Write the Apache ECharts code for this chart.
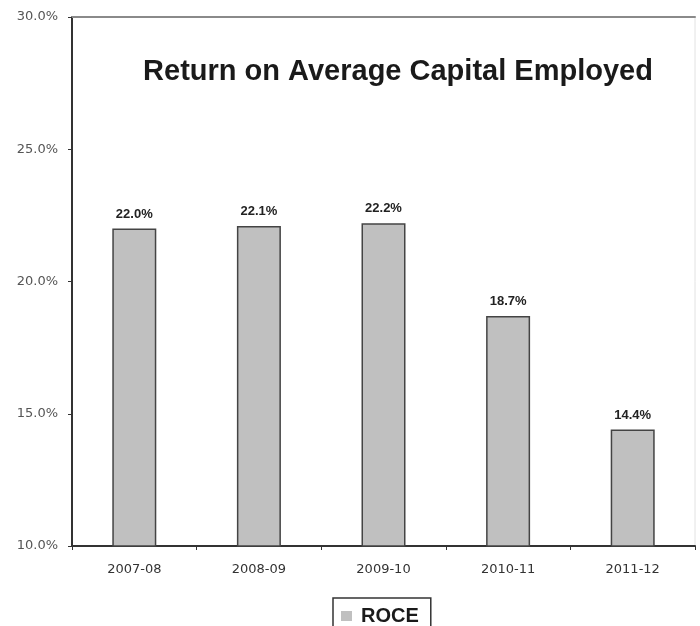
<!DOCTYPE html>
<html>
<head>
<meta charset="utf-8">
<style>
  html, body { margin: 0; padding: 0; background: #fff; }
  #chart { width: 700px; height: 626px; }
</style>
<script src="https://cdn.jsdelivr.net/npm/echarts@6/dist/echarts.min.js"></script>
</head>
<body>
<div id="chart"></div>
<script>
// Return on Average Capital Employed, by financial year
const years = ['2007-08', '2008-09', '2009-10', '2010-11', '2011-12'];
const roce = [22.0, 22.1, 22.2, 18.7, 14.4];
const seriesName = 'ROCE';

const FONT = '"Liberation Sans", Arial, sans-serif';
const AXIS_FONT = '"DejaVu Sans", Verdana, sans-serif';
const chart = echarts.init(document.getElementById('chart'), null, { renderer: 'canvas' });

chart.setOption({
  animation: false,
  backgroundColor: '#ffffff',
  textStyle: { fontFamily: FONT },
  title: {
    text: 'Return on Average Capital Employed',
    left: 393,
    textAlign: 'center',
    top: 52,
    textStyle: { fontFamily: FONT, fontSize: 29, fontWeight: 'bold', color: '#1a1a1a' }
  },
  legend: {
    data: [seriesName],
    left: 333,
    top: 598,
    icon: 'rect',
    itemWidth: 11,
    itemHeight: 10,
    itemGap: 6,
    padding: [8, 12, 8, 8],
    borderColor: '#333',
    borderWidth: 1.5,
    itemStyle: { color: '#c0c0c0', borderWidth: 0 },
    textStyle: { fontFamily: FONT, fontSize: 20, fontWeight: 'bold', color: '#1a1a1a', padding: [0, 0, 0, 4] }
  },
  grid: {
    left: 72, right: 5, top: 17, bottom: 80,
    show: true,
    borderColor: '#e2e2e2',
    borderWidth: 1,
    backgroundColor: '#fff'
  },
  xAxis: [
    {
      type: 'category',
      data: years,
      boundaryGap: true,
      axisLine: { lineStyle: { color: '#333', width: 2 } },
      axisTick: { show: true, alignWithLabel: false, length: 4, lineStyle: { color: '#333' } },
      axisLabel: { color: '#333', fontSize: 13, margin: 17, fontFamily: AXIS_FONT }
    },
    {
      type: 'category',
      data: years,
      position: 'top',
      axisLine: { lineStyle: { color: '#8a8a8a', width: 2 } },
      axisTick: { show: false },
      axisLabel: { show: false }
    }
  ],
  yAxis: {
    type: 'value',
    min: 10,
    max: 30,
    interval: 5,
    axisLine: { show: true, lineStyle: { color: '#333', width: 2 } },
    axisTick: { show: true, length: 4, lineStyle: { color: '#333' } },
    splitLine: { show: false },
    axisLabel: {
      color: '#555',
      fontSize: 13,
      margin: 14,
      fontFamily: AXIS_FONT,
      formatter: v => v.toFixed(1) + '%'
    }
  },
  series: [{
    name: seriesName,
    type: 'bar',
    data: roce,
    barWidth: 44,
    itemStyle: { color: '#c0c0c0', borderColor: '#444', borderWidth: 1.5 },
    label: {
      show: true,
      position: 'top',
      distance: 8,
      fontFamily: FONT,
      fontSize: 13,
      fontWeight: 'bold',
      color: '#222',
      formatter: p => p.value.toFixed(1) + '%'
    }
  }]
});
</script>
</body>
</html>
